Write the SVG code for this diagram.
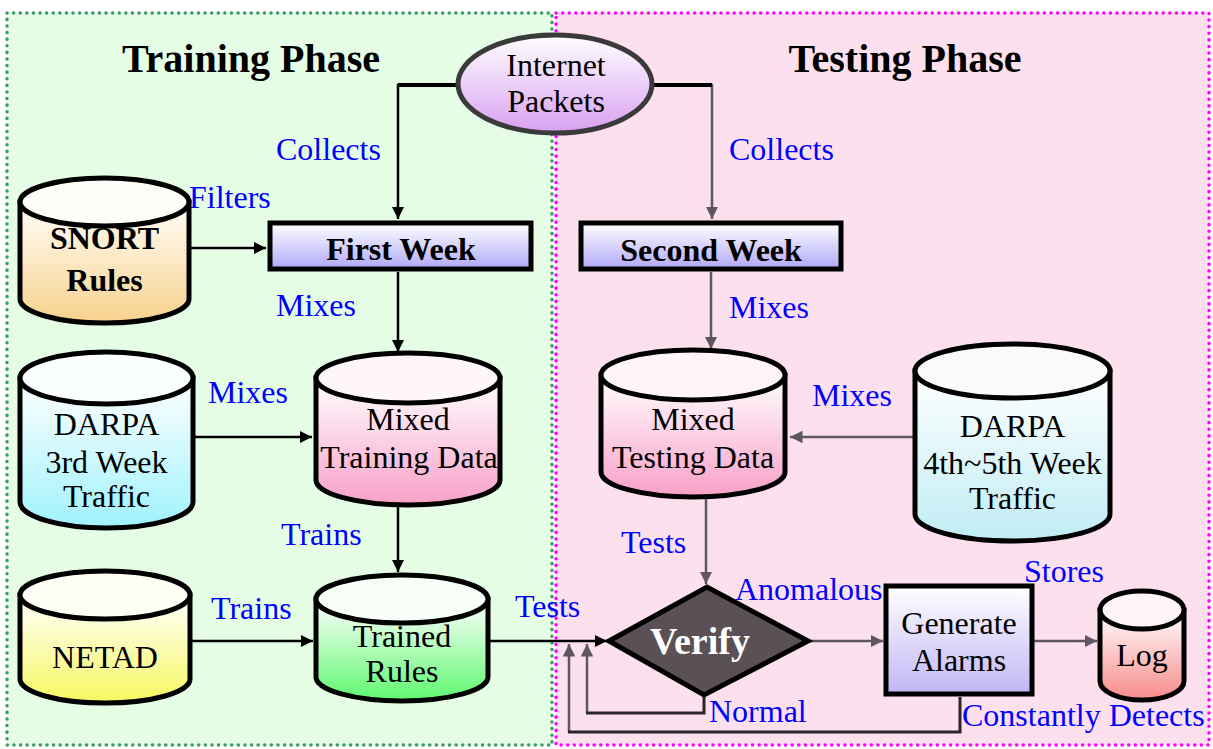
<svg xmlns="http://www.w3.org/2000/svg" width="1213" height="749" viewBox="0 0 1213 749">
<defs>
<style>
.lbl{font-family:"Liberation Serif","Times New Roman",serif;font-size:32px;fill:#0000ff}
.nt{font-family:"Liberation Serif","Times New Roman",serif;font-size:32px;fill:#000;text-anchor:middle}
.bt{font-family:"Liberation Serif","Times New Roman",serif;font-size:32px;font-weight:bold;fill:#000;text-anchor:middle}
.ph{font-family:"Liberation Serif","Times New Roman",serif;font-size:40px;font-weight:bold;fill:#000;text-anchor:middle}
.cyl{stroke:#000;stroke-width:5}
.blk{stroke:#000;stroke-width:2.5;fill:none}
.gry{stroke:#5e5660;stroke-width:2.5;fill:none}
.dk{stroke:#2a2528;stroke-width:3;fill:none}
</style>
<linearGradient id="gOr" x1="0" y1="0" x2="0" y2="1"><stop offset="0" stop-color="#fffdf8"/><stop offset="1" stop-color="#f8d28e"/></linearGradient>
<linearGradient id="gCy" x1="0" y1="0" x2="0" y2="1"><stop offset="0" stop-color="#ffffff"/><stop offset="1" stop-color="#a0f2fc"/></linearGradient>
<linearGradient id="gYe" x1="0" y1="0" x2="0" y2="1"><stop offset="0" stop-color="#ffffff"/><stop offset="1" stop-color="#f6f860"/></linearGradient>
<linearGradient id="gPk" x1="0" y1="0" x2="0" y2="1"><stop offset="0" stop-color="#ffffff"/><stop offset="1" stop-color="#f8a0c8"/></linearGradient>
<linearGradient id="gGr" x1="0" y1="0" x2="0" y2="1"><stop offset="0" stop-color="#ffffff"/><stop offset="1" stop-color="#5ef86e"/></linearGradient>
<linearGradient id="gLc" x1="0" y1="0" x2="0" y2="1"><stop offset="0" stop-color="#ffffff"/><stop offset="1" stop-color="#c0ecf4"/></linearGradient>
<linearGradient id="gRd" x1="0" y1="0" x2="0" y2="1"><stop offset="0" stop-color="#ffffff"/><stop offset="1" stop-color="#f88a8a"/></linearGradient>
<linearGradient id="gLv" x1="0" y1="0" x2="0" y2="1"><stop offset="0" stop-color="#ffffff"/><stop offset="1" stop-color="#b0a8f8"/></linearGradient>
<linearGradient id="gLv2" x1="0" y1="0" x2="0" y2="1"><stop offset="0" stop-color="#ffffff"/><stop offset="1" stop-color="#c0b6f4"/></linearGradient>
<linearGradient id="gPu" x1="0" y1="0" x2="0" y2="1"><stop offset="0" stop-color="#ffffff"/><stop offset="1" stop-color="#d8a0f0"/></linearGradient>
<marker id="aB" viewBox="0 0 10 10" refX="10" refY="5" markerWidth="5" markerHeight="5" orient="auto" markerUnits="strokeWidth"><path d="M0,0 L10,5 L0,10 Z" fill="#000"/></marker>
<marker id="aG" viewBox="0 0 10 10" refX="10" refY="5" markerWidth="5" markerHeight="5" orient="auto" markerUnits="strokeWidth"><path d="M0,0 L10,5 L0,10 Z" fill="#5e5660"/></marker>
</defs>

<g id="regions">
<rect x="7" y="13" width="545" height="732" fill="#e4fde4" stroke="#3a9a68" stroke-width="3.5" stroke-dasharray="0.1 6.5" stroke-linecap="round"/>
<rect x="556" y="13" width="653" height="732" fill="#fde0ee" stroke="#ff00ff" stroke-width="3.5" stroke-dasharray="0.1 6.5" stroke-linecap="round"/>
<text class="ph" x="251" y="72">Training Phase</text>
<text class="ph" x="905" y="72">Testing Phase</text>
</g>

<g id="connectors">
<path class="blk" d="M460,85 H398 V219" marker-end="url(#aB)"/>
<path d="M460,85 H398" stroke="#000" stroke-width="4"/>
<path class="gry" d="M653,85 H712 V219" marker-end="url(#aG)"/>
<path d="M653,85 H712" stroke="#000" stroke-width="4"/>
<path class="blk" d="M190,248 H266" marker-end="url(#aB)"/>
<path class="blk" d="M398,272 V352" marker-end="url(#aB)"/>
<path class="blk" d="M194,437 H312" marker-end="url(#aB)"/>
<path class="blk" d="M398,507 V572" marker-end="url(#aB)"/>
<path class="blk" d="M191,641 H313" marker-end="url(#aB)"/>
<path class="blk" d="M489,641 H607" marker-end="url(#aB)"/>
<path class="gry" d="M711,272 V349" marker-end="url(#aG)"/>
<path class="gry" d="M914,437 H790" marker-end="url(#aG)"/>
<path class="gry" d="M706,499 V584" marker-end="url(#aG)"/>
<path class="gry" d="M808,641 H883" marker-end="url(#aG)"/>
<path class="gry" d="M1034,641 H1097" marker-end="url(#aG)"/>
<path class="gry" d="M587,713 V644" marker-end="url(#aG)"/>
<path class="dk" d="M704,693 V713 H586"/>
<path class="gry" d="M569,732 V644" marker-end="url(#aG)"/>
<path class="dk" d="M960,697 V732 H568"/>
<text class="lbl" x="276" y="160">Collects</text>
<text class="lbl" x="189" y="208">Filters</text>
<text class="lbl" x="276" y="316">Mixes</text>
<text class="lbl" x="208" y="403">Mixes</text>
<text class="lbl" x="281" y="545">Trains</text>
<text class="lbl" x="211" y="619">Trains</text>
<text class="lbl" x="515" y="617">Tests</text>
<text class="lbl" x="729" y="160">Collects</text>
<text class="lbl" x="729" y="318">Mixes</text>
<text class="lbl" x="812" y="406">Mixes</text>
<text class="lbl" x="621" y="553">Tests</text>
<text class="lbl" x="735" y="600">Anomalous</text>
<text class="lbl" x="1024" y="582">Stores</text>
<text class="lbl" x="709" y="722">Normal</text>
<text class="lbl" x="962" y="726">Constantly Detects</text>
</g>

<g id="internet">
<ellipse cx="555" cy="84" rx="97" ry="49" fill="url(#gPu)" stroke="#3a3a3a" stroke-width="5"/>
<text class="nt" x="556" y="76">Internet</text>
<text class="nt" x="556" y="112">Packets</text>
</g>

<g id="snort">
<path class="cyl" fill="url(#gOr)" d="M20,202 V299 A84.5,24 0 0 0 189,299 V202 Z"/>
<ellipse class="cyl" cx="104.5" cy="202" rx="84.5" ry="24" fill="#fffdf8"/>
<text class="bt" x="104.5" y="249">SNORT</text>
<text class="bt" x="104.5" y="291">Rules</text>
</g>

<g id="firstweek">
<rect x="270" y="223" width="261" height="46" fill="url(#gLv)" stroke="#000" stroke-width="5"/>
<text class="bt" x="401" y="260">First Week</text>
</g>

<g id="secondweek">
<rect x="581" y="223" width="260" height="46" fill="url(#gLv)" stroke="#000" stroke-width="5"/>
<text class="bt" x="711" y="261">Second Week</text>
</g>

<g id="darpa3">
<path class="cyl" fill="url(#gCy)" d="M20,378 V502 A86.5,26 0 0 0 193,502 V378 Z"/>
<ellipse class="cyl" cx="106.5" cy="378" rx="86.5" ry="26" fill="#fbffff"/>
<text class="nt" x="106.5" y="435">DARPA</text>
<text class="nt" x="106.5" y="473">3rd Week</text>
<text class="nt" x="106.5" y="507">Traffic</text>
</g>

<g id="mixedtrain">
<path class="cyl" fill="url(#gPk)" d="M316,378 V480 A92,25 0 0 0 500,480 V378 Z"/>
<ellipse class="cyl" cx="408" cy="378" rx="92" ry="25" fill="#fff6f9"/>
<text class="nt" x="408" y="430">Mixed</text>
<text class="nt" x="409" y="468">Training Data</text>
</g>

<g id="netad">
<path class="cyl" fill="url(#gYe)" d="M20,595 V679 A85,24 0 0 0 190,679 V595 Z"/>
<ellipse class="cyl" cx="105" cy="595" rx="85" ry="24" fill="#fffff6"/>
<text class="nt" x="105" y="668">NETAD</text>
</g>

<g id="trained">
<path class="cyl" fill="url(#gGr)" d="M316,599 V677 A86,24 0 0 0 488,677 V599 Z"/>
<ellipse class="cyl" cx="402" cy="599" rx="86" ry="24" fill="#f8fff8"/>
<text class="nt" x="402" y="647">Trained</text>
<text class="nt" x="402" y="682">Rules</text>
</g>

<g id="mixedtest">
<path class="cyl" fill="url(#gPk)" d="M601,375 V472 A92,25 0 0 0 785,472 V375 Z"/>
<ellipse class="cyl" cx="693" cy="375" rx="92" ry="25" fill="#fff4f8"/>
<text class="nt" x="693" y="430">Mixed</text>
<text class="nt" x="693" y="468">Testing Data</text>
</g>

<g id="darpa45">
<path class="cyl" fill="url(#gLc)" d="M915,371 V514 A97.5,27 0 0 0 1110,514 V371 Z"/>
<ellipse class="cyl" cx="1012.5" cy="371" rx="97.5" ry="27" fill="#fafafc"/>
<text class="nt" x="1012.5" y="437">DARPA</text>
<text class="nt" x="1012.5" y="474">4th~5th Week</text>
<text class="nt" x="1012.5" y="509">Traffic</text>
</g>

<g id="verify">
<path d="M609,641 L707,587 L808,641 L704,695 Z" fill="#5a5056" stroke="#000" stroke-width="5" stroke-linejoin="miter"/>
<text x="700" y="654" font-family="'Liberation Serif','Times New Roman',serif" font-size="38" font-weight="bold" fill="#ffffff" text-anchor="middle">Verify</text>
</g>

<g id="alarms">
<rect x="886" y="586" width="146" height="108" fill="url(#gLv2)" stroke="#000" stroke-width="5"/>
<text class="nt" x="959" y="634">Generate</text>
<text class="nt" x="959" y="671">Alarms</text>
</g>

<g id="log">
<path class="cyl" fill="url(#gRd)" d="M1100,610 V681 A42,19 0 0 0 1184,681 V610 Z"/>
<ellipse class="cyl" cx="1142" cy="610" rx="42" ry="19" fill="#fff4f6"/>
<text class="nt" x="1142" y="666">Log</text>
</g>
</svg>
